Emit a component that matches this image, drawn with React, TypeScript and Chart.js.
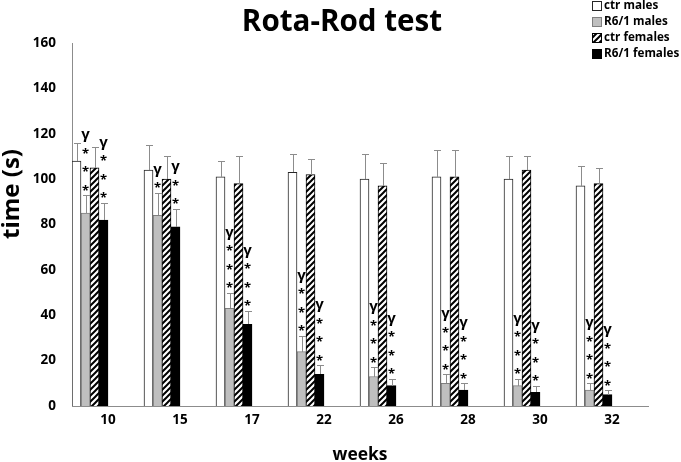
import React, { useEffect, useRef } from 'react';
import { Chart, registerables } from 'chart.js';

Chart.register(...registerables);

const weeks = ['10', '15', '17', '22', '26', '28', '30', '32'];
const seriesLabels = ['ctr males', 'R6/1 males', 'ctr females', 'R6/1 females'];
const ctrMales = [108, 104, 101, 103, 100, 101, 100, 97];
const r61Males = [85, 84, 43, 24, 13, 10, 9, 7];
const ctrFemales = [105, 100, 98, 102, 97, 101, 104, 98];
const r61Females = [82, 79, 36, 14, 9, 7, 6, 5];
const ctrMalesErr = [8, 11, 7, 8, 11, 12, 10, 9];
const r61MalesErr = [8, 10, 7, 7, 4, 4, 3, 3];
const ctrFemalesErr = [9, 10, 12, 7, 10, 12, 6, 7];
const r61FemalesErr = [7.5, 8, 6, 4, 3, 3, 3, 2];
const r61MalesStars = [3, 1, 3, 3, 3, 3, 3, 3];
const r61FemalesStars = [3, 2, 3, 3, 3, 3, 3, 3];
const yMin = 0;
const yMax = 160;
const yStep = 20;
const chartTitle = 'Rota-Rod test';
const xTitle = 'weeks';
const yTitle = 'time (s)';

const FONT = '"Open Sans", Lato, sans-serif';
const GLYPH_FONT = '"Open Sans", "DejaVu Sans", sans-serif';

function makeHatch(ctx: CanvasRenderingContext2D): CanvasPattern | string {
  const c = document.createElement('canvas');
  c.width = 6;
  c.height = 6;
  const g = c.getContext('2d')!;
  g.fillStyle = '#ffffff';
  g.fillRect(0, 0, 6, 6);
  g.strokeStyle = '#000000';
  g.lineWidth = 2;
  g.beginPath();
  g.moveTo(-1, 1); g.lineTo(1, -1);
  g.moveTo(-1, 7); g.lineTo(7, -1);
  g.moveTo(5, 7); g.lineTo(7, 5);
  g.stroke();
  return ctx.createPattern(c, 'repeat') || '#666';
}

function drawCentered(ctx: CanvasRenderingContext2D, text: string, x: number, cy: number) {
  ctx.textAlign = 'center';
  ctx.textBaseline = 'alphabetic';
  const m = ctx.measureText(text);
  const base = cy + (m.actualBoundingBoxAscent - m.actualBoundingBoxDescent) / 2;
  ctx.fillText(text, x, base);
}

function fitFont(ctx: CanvasRenderingContext2D, text: string, width: number): string {
  ctx.font = `bold 100px ${FONT}`;
  const w = ctx.measureText(text).width;
  const size = (100 * width) / w;
  return `bold ${size.toFixed(1)}px ${FONT}`;
}

export default function App() {
  const ref = useRef<HTMLCanvasElement>(null);

  useEffect(() => {
    const canvas = ref.current!;
    const ctx = canvas.getContext('2d')!;
    const hatch = makeHatch(ctx);
    const errs = [ctrMalesErr, r61MalesErr, ctrFemalesErr, r61FemalesErr];
    const stars: Record<number, number[]> = { 1: r61MalesStars, 3: r61FemalesStars };

    const overlay = {
      id: 'overlay',
      afterDatasetsDraw(chart: any) {
        const c = chart.ctx as CanvasRenderingContext2D;
        const ys = chart.scales.y;
        c.save();
        errs.forEach((errArr, di) => {
          const meta = chart.getDatasetMeta(di);
          meta.data.forEach((bar: any, i: number) => {
            const v = chart.data.datasets[di].data[i] as number;
            const top = Math.round(ys.getPixelForValue(v + errArr[i]));
            const x = Math.round(bar.x) + 0.5;
            c.strokeStyle = '#8c8c8c';
            c.lineWidth = 1;
            c.beginPath();
            c.moveTo(x, Math.round(bar.y));
            c.lineTo(x, top);
            c.moveTo(x - 3.5, top + 0.5);
            c.lineTo(x + 3.5, top + 0.5);
            c.stroke();
          });
        });
        c.fillStyle = '#000';
        Object.keys(stars).forEach((k) => {
          const di = Number(k);
          const meta = chart.getDatasetMeta(di);
          meta.data.forEach((bar: any, i: number) => {
            const v = chart.data.datasets[di].data[i] as number;
            const top = ys.getPixelForValue(v + errs[di][i]);
            const n = stars[di][i];
            const x = bar.x;
            c.font = `bold 13px ${GLYPH_FONT}`;
            for (let s = 0; s < n; s++) {
              drawCentered(c, '*', x, top - 7.5 - s * 18.5);
            }
            const gy = top - 7.5 - (n - 1) * 18.5 - 14;
            c.font = `bold 15px ${GLYPH_FONT}`;
            drawCentered(c, 'γ', x, gy);
          });
        });
        c.restore();
      },
      afterDraw(chart: any) {
        const c = chart.ctx as CanvasRenderingContext2D;
        c.save();
        c.fillStyle = '#000';
        c.font = fitFont(c, chartTitle, 200);
        c.textAlign = 'center';
        c.textBaseline = 'alphabetic';
        c.fillText(chartTitle, 342, 31);
        c.font = fitFont(c, xTitle, 55);
        c.textAlign = 'center';
        c.fillText(xTitle, 360, 460);
        c.save();
        c.translate(12, 194);
        c.rotate(-Math.PI / 2);
        c.font = fitFont(c, yTitle, 90);
        drawCentered(c, yTitle, 0, 0);
        c.restore();
        const datasets = chart.data.datasets.slice(0, 4);
        const legendFont = fitFont(c, seriesLabels[3], 75);
        datasets.forEach((ds: any, i: number) => {
          const cy = 6 + i * 16;
          c.fillStyle = ds.backgroundColor;
          c.fillRect(592, cy - 5, 10, 10);
          c.strokeStyle = ds.borderColor;
          c.lineWidth = 1;
          c.strokeRect(592.5, cy - 4.5, 9, 9);
          c.fillStyle = '#000';
          c.font = legendFont;
          c.textAlign = 'left';
          c.textBaseline = 'middle';
          c.fillText(ds.label, 604, cy);
        });
        c.restore();
      },
    };

    const seriesData = [ctrMales, r61Males, ctrFemales, r61Females];
    const fills: any[] = ['#ffffff', '#bfbfbf', hatch, '#000000'];
    const borders = ['#262626', '#7f7f7f', '#000000', '#000000'];
    const datasets: any[] = seriesData.map((d, i) => ({
      label: seriesLabels[i],
      data: d,
      backgroundColor: fills[i],
      borderColor: borders[i],
      borderWidth: 1,
      categoryPercentage: 1,
      barPercentage: 1,
    }));
    for (let k = 0; k < 4; k++) {
      datasets.push({
        label: '',
        data: weeks.map(() => null),
        backgroundColor: 'rgba(0,0,0,0)',
        borderWidth: 0,
        categoryPercentage: 1,
        barPercentage: 1,
      });
    }

    const tickFont = { family: FONT, weight: 'bold' as const, size: 13.5 };

    const chart = new Chart(ctx, {
      type: 'bar',
      data: { labels: weeks, datasets },
      options: {
        animation: false,
        responsive: false,
        layout: { padding: { left: 0, right: 33, top: 43, bottom: 0 } },
        scales: {
          x: {
            grid: { display: false, drawTicks: false },
            border: { display: true, color: '#8c8c8c', width: 1 },
            ticks: { font: tickFont, color: '#000', padding: 6 },
            afterFit: (s: any) => { s.height = 56; },
          },
          y: {
            min: yMin,
            max: yMax,
            grid: { display: false, drawTicks: false },
            border: { display: true, color: '#8c8c8c', width: 1 },
            ticks: { stepSize: yStep, font: tickFont, color: '#000', padding: 16 },
            afterFit: (s: any) => { s.width = 72; },
          },
        },
        plugins: {
          legend: { display: false },
          title: { display: false },
          tooltip: { enabled: false },
        },
      },
      plugins: [overlay],
    });
    return () => chart.destroy();
  }, []);

  return (
    <div style={{ position: 'absolute', left: 0, top: 0, width: 681, height: 462, background: '#fff' }}>
      <canvas ref={ref} width={681} height={462} style={{ display: 'block' }} />
    </div>
  );
}
